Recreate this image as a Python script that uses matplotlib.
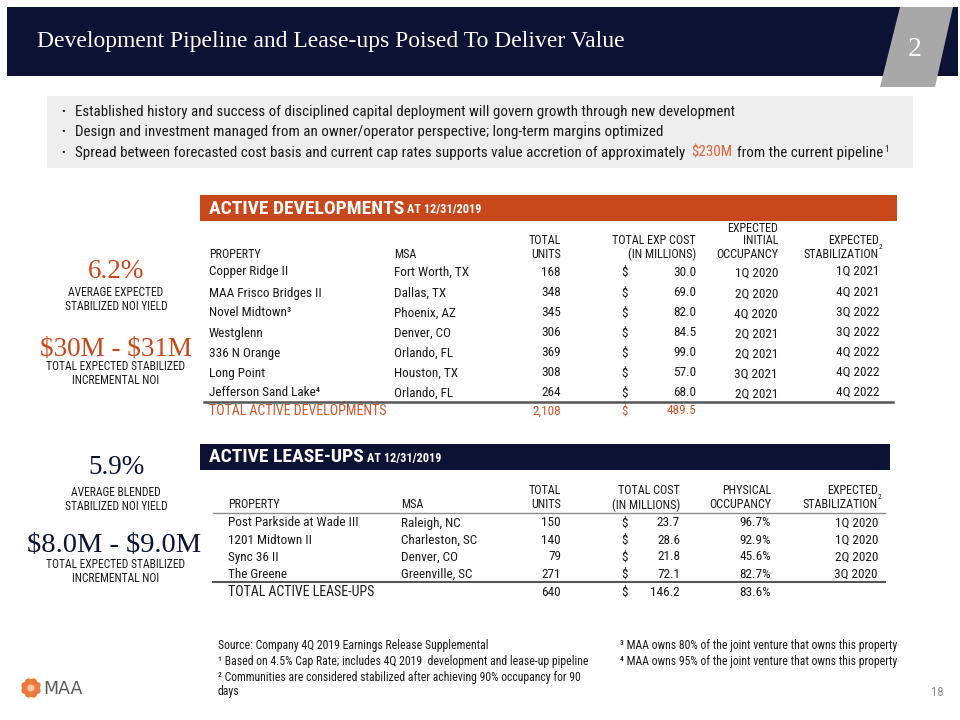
import matplotlib
matplotlib.use("Agg")
import matplotlib.pyplot as plt
from matplotlib.patches import Rectangle, Polygon, Circle
from matplotlib import font_manager
from matplotlib.font_manager import FontProperties
import math

# find a condensed / narrow sans face if one is installed
cands = []
for f in font_manager.fontManager.ttflist:
    nm = (f.fname.split("/")[-1] + " " + f.name).lower()
    if ("condensed" in nm or "narrow" in nm) and "serif" not in nm and "mono" not in nm:
        cands.append(f)
def pick(bold):
    best = None
    for f in cands:
        nm = f.fname.split("/")[-1].lower()
        if "italic" in nm or "oblique" in nm:
            continue
        isbold = (f.weight in ("bold", 700, "heavy", 800)) or "bold" in nm
        if isbold != bold:
            continue
        if "light" in nm or "thin" in nm or "black" in nm or "extra" in nm or "semi" in nm or "medium" in nm:
            continue
        best = f.fname
        if "liberation" in nm or "roboto" in nm:
            break
    return best
reg_file, bold_file = pick(False), pick(True)
if bold_file is None:
    bold_file = reg_file

def fp(size, bold=False):
    f = bold_file if bold else reg_file
    if f:
        return FontProperties(fname=f, size=size)
    return FontProperties(family=["Liberation Sans", "DejaVu Sans"], size=size,
                          weight="bold" if bold else "normal")
SERIF = ['Liberation Serif', 'DejaVu Serif']
SC = 1.0 if reg_file else 0.9   # size scale if we fall back to a normal-width face

# ---------------- data ----------------
bullets = [
    "Established history and success of disciplined capital deployment will govern growth through new development",
    "Design and investment managed from an owner/operator perspective; long-term margins optimized",
    "Spread between forecasted cost basis and current cap rates supports value accretion of approximately",
]
dev_property = ["Copper Ridge II", "MAA Frisco Bridges II", "Novel Midtown\u00b3", "Westglenn",
                "336 N Orange", "Long Point", "Jefferson Sand Lake\u2074"]
dev_msa = ["Fort Worth, TX", "Dallas, TX", "Phoenix, AZ", "Denver, CO",
           "Orlando, FL", "Houston, TX", "Orlando, FL"]
dev_units = [168, 348, 345, 306, 369, 308, 264]
dev_cost = [30.0, 69.0, 82.0, 84.5, 99.0, 57.0, 68.0]
dev_initial = ["1Q 2020", "2Q 2020", "4Q 2020", "2Q 2021", "2Q 2021", "3Q 2021", "2Q 2021"]
dev_stab = ["1Q 2021", "4Q 2021", "3Q 2022", "3Q 2022", "4Q 2022", "4Q 2022", "4Q 2022"]
dev_total_units = 2108
dev_total_cost = 489.5

lease_property = ["Post Parkside at Wade III", "1201 Midtown II", "Sync 36 II", "The Greene"]
lease_msa = ["Raleigh, NC", "Charleston, SC", "Denver, CO", "Greenville, SC"]
lease_units = [150, 140, 79, 271]
lease_cost = [23.7, 28.6, 21.8, 72.1]
lease_occ = [96.7, 92.9, 45.6, 82.7]
lease_stab = ["1Q 2020", "1Q 2020", "2Q 2020", "3Q 2020"]
lease_total_units = 640
lease_total_cost = 146.2
lease_total_occ = 83.6

footnotes_left = [
    "Source: Company 4Q 2019 Earnings Release Supplemental",
    "\u00b9 Based on 4.5% Cap Rate; includes 4Q 2019  development and lease-up pipeline",
    "\u00b2 Communities are considered stabilized after achieving 90% occupancy for 90",
    "days",
]
footnotes_right = [
    "\u00b3 MAA owns 80% of the joint venture that owns this property",
    "\u2074 MAA owns 95% of the joint venture that owns this property",
]

# ---------------- style ----------------
NAVY = "#0b1233"
ORANGE = "#c9481b"
ORANGE_T = "#d0562a"
TXT = "#1a1a1a"

fig = plt.figure(figsize=(9.6, 7.2), dpi=100)
ax = fig.add_axes([0, 0, 1, 1])
ax.set_xlim(0, 960)
ax.set_ylim(720, 0)
ax.axis("off")

def t(x, y, s, size=9, ha="left", color=TXT, bold=False, va="center"):
    return ax.text(x, y, s, fontproperties=fp(size * SC, bold), ha=ha, va=va, color=color,
                   parse_math=False)

def ts(x, y, s, size, ha="center", color=TXT):
    return ax.text(x, y, s, fontsize=size, family=SERIF, ha=ha, va="center", color=color,
                   parse_math=False)

def right_edge(txt):
    fig.canvas.draw()
    return txt.get_window_extent().transformed(ax.transData.inverted()).x1

# title bar
ax.add_patch(Rectangle((7, 7), 951, 69, color=NAVY, lw=0))
ax.add_patch(Polygon([[900, 7], [953, 7], [935, 87], [880, 87]], closed=True, color="#a8a8a8", lw=0))
ts(37, 41, "Development Pipeline and Lease-ups Poised To Deliver Value", 17, ha="left", color="white")
ts(915, 49, "2", 20, color="white")

# bullet box
ax.add_patch(Rectangle((47, 96), 866, 72, color="#eeeeee", lw=0))
by = [112, 132, 153]
BS = 10.8
for y, s in zip(by, bullets):
    t(61, y, "\u2022", size=8)
    last = t(75, y, s, size=BS)
x1 = right_edge(last)
m = t(x1 + 6, by[2], "$230M", size=BS, color="#e0653a")
x2 = right_edge(m)
r = t(x2 + 5, by[2], "from the current pipeline", size=BS)
x3 = right_edge(r)
t(x3 + 1, by[2] - 3, "1", size=6.5)

# ---------------- left stats ----------------
cx = 116
LS = 8.3
ts(cx, 272, "6.2%", 19.5, color=ORANGE)
t(cx, 293, "AVERAGE EXPECTED", size=LS, ha="center")
t(cx, 307, "STABILIZED NOI YIELD", size=LS, ha="center")
ts(cx, 349, "$30M - $31M", 19.5, color=ORANGE)
t(cx, 367, "TOTAL EXPECTED STABILIZED", size=LS, ha="center")
t(cx, 380, "INCREMENTAL NOI", size=LS, ha="center")

ts(cx, 467, "5.9%", 19.5, color=NAVY)
t(cx, 492, "AVERAGE BLENDED", size=LS, ha="center")
t(cx, 506, "STABILIZED NOI YIELD", size=LS, ha="center")
ts(cx - 2, 546, "$8.0M - $9.0M", 20.5, color=NAVY)
t(cx, 565, "TOTAL EXPECTED STABILIZED", size=LS, ha="center")
t(cx, 579, "INCREMENTAL NOI", size=LS, ha="center")

# ---------------- active developments ----------------
ax.add_patch(Rectangle((200, 195), 697, 26, color=ORANGE, lw=0))
h1 = t(209, 208.5, "ACTIVE DEVELOPMENTS", size=14, color="white", bold=True)
t(right_edge(h1) + 3, 209.5, "AT 12/31/2019", size=8.8, color="white", bold=True)

HS = 8.7
c_prop, c_msa, c_units, c_dol, c_cost, c_init, c_stab = 209, 394, 561, 621, 696, 778, 879
t(c_prop, 254, "PROPERTY", size=HS)
t(c_msa, 254, "MSA", size=HS)
t(c_units, 241, "TOTAL", size=HS, ha="right")
t(c_units, 254, "UNITS", size=HS, ha="right")
t(c_cost, 241, "TOTAL EXP COST", size=HS, ha="right")
t(c_cost, 254, "(IN MILLIONS)", size=HS, ha="right")
t(c_init, 228, "EXPECTED", size=HS, ha="right")
t(c_init, 241, "INITIAL", size=HS, ha="right")
t(c_init, 255, "OCCUPANCY", size=HS, ha="right")
t(c_stab, 241, "EXPECTED", size=HS, ha="right")
t(c_stab, 255, "STABILIZATION", size=HS, ha="right")
t(c_stab + 2, 247, "2", size=5.5, ha="center")

RS = 9.5
dev_y = [272, 293, 313, 333, 353, 373, 393]
for i, y in enumerate(dev_y):
    t(c_prop, y, dev_property[i], size=RS)
    t(c_msa, y, dev_msa[i], size=RS)
    t(c_units, y, f"{dev_units[i]:,}", size=RS, ha="right")
    t(c_dol, y, "$", size=RS)
    t(c_cost, y, f"{dev_cost[i]:.1f}", size=RS, ha="right")
    t(c_init, y + 1, dev_initial[i], size=RS, ha="right")
    t(c_stab, y - 1, dev_stab[i], size=RS, ha="right")
ax.plot([204, 893], [402, 402], color="#555555", lw=1.8)
t(c_prop, 411, "TOTAL ACTIVE DEVELOPMENTS", size=10, color=ORANGE_T)
t(c_units, 411, f"{dev_total_units:,}", size=RS, ha="right", color=ORANGE_T)
t(c_dol, 411, "$", size=RS, color=ORANGE_T)
t(c_cost, 411, f"{dev_total_cost:.1f}", size=RS, ha="right", color=ORANGE_T)

# ---------------- active lease-ups ----------------
ax.add_patch(Rectangle((200, 444), 690, 26, color=NAVY, lw=0))
h2 = t(209, 457.5, "ACTIVE LEASE-UPS", size=14, color="white", bold=True)
t(right_edge(h2) + 3, 458.5, "AT 12/31/2019", size=8.8, color="white", bold=True)

l_prop, l_msa, l_units, l_dol, l_cost, l_occ, l_stab = 228, 401, 561, 621, 680, 771, 878
t(l_prop, 505, "PROPERTY", size=HS)
t(l_msa, 505, "MSA", size=HS)
t(l_units, 491, "TOTAL", size=HS, ha="right")
t(l_units, 505, "UNITS", size=HS, ha="right")
t(l_cost, 491, "TOTAL COST", size=HS, ha="right")
t(l_cost, 505, "(IN MILLIONS)", size=HS, ha="right")
t(l_occ, 491, "PHYSICAL", size=HS, ha="right")
t(l_occ, 505, "OCCUPANCY", size=HS, ha="right")
t(l_stab, 491, "EXPECTED", size=HS, ha="right")
t(l_stab, 505, "STABILIZATION", size=HS, ha="right")
t(l_stab + 2, 497, "2", size=5.5, ha="center")
ax.plot([213, 885], [513, 513], color="#8c8c8c", lw=1.0)

lease_y = [523, 540, 557, 574]
for i, y in enumerate(lease_y):
    t(l_prop, y, lease_property[i], size=RS)
    t(l_msa, y, lease_msa[i], size=RS)
    t(l_units, y, f"{lease_units[i]}", size=RS, ha="right")
    t(l_dol, y, "$", size=RS)
    t(l_cost, y, f"{lease_cost[i]:.1f}", size=RS, ha="right")
    t(l_occ, y, f"{lease_occ[i]:.1f}%", size=RS, ha="right")
    t(l_stab, y, lease_stab[i], size=RS, ha="right")
ax.plot([213, 885], [582, 582], color="#555555", lw=1.5)
t(l_prop, 592, "TOTAL ACTIVE LEASE-UPS", size=10)
t(l_units, 592, f"{lease_total_units}", size=RS, ha="right")
t(l_dol, 592, "$", size=RS)
t(l_cost, 592, f"{lease_total_cost:.1f}", size=RS, ha="right")
t(l_occ, 592, f"{lease_total_occ:.1f}%", size=RS, ha="right")

# ---------------- footnotes ----------------
FS = 8.5
for y, s in zip([646, 662, 677, 692], footnotes_left):
    t(218, y, s, size=FS)
for y, s in zip([646, 662], footnotes_right):
    t(620, y, s, size=FS)
t(944, 693, "18", size=9, color="#8c8c8c", ha="right")

# logo
lx, ly = 31, 688
for k in range(8):
    a = k * math.pi / 4 + math.pi / 8
    ax.add_patch(Circle((lx + 6.5 * math.cos(a), ly + 6.5 * math.sin(a)), 3.6,
                        color="#ea7a3a", lw=0))
ax.add_patch(Circle((lx, ly), 3.5, color="#f6c9a6", lw=0))
ax.text(43, 689, "MAA", fontsize=12.5, color="#5a5a5a", family=['DejaVu Sans'], va="center")

fig.savefig("out.png", dpi=100)
